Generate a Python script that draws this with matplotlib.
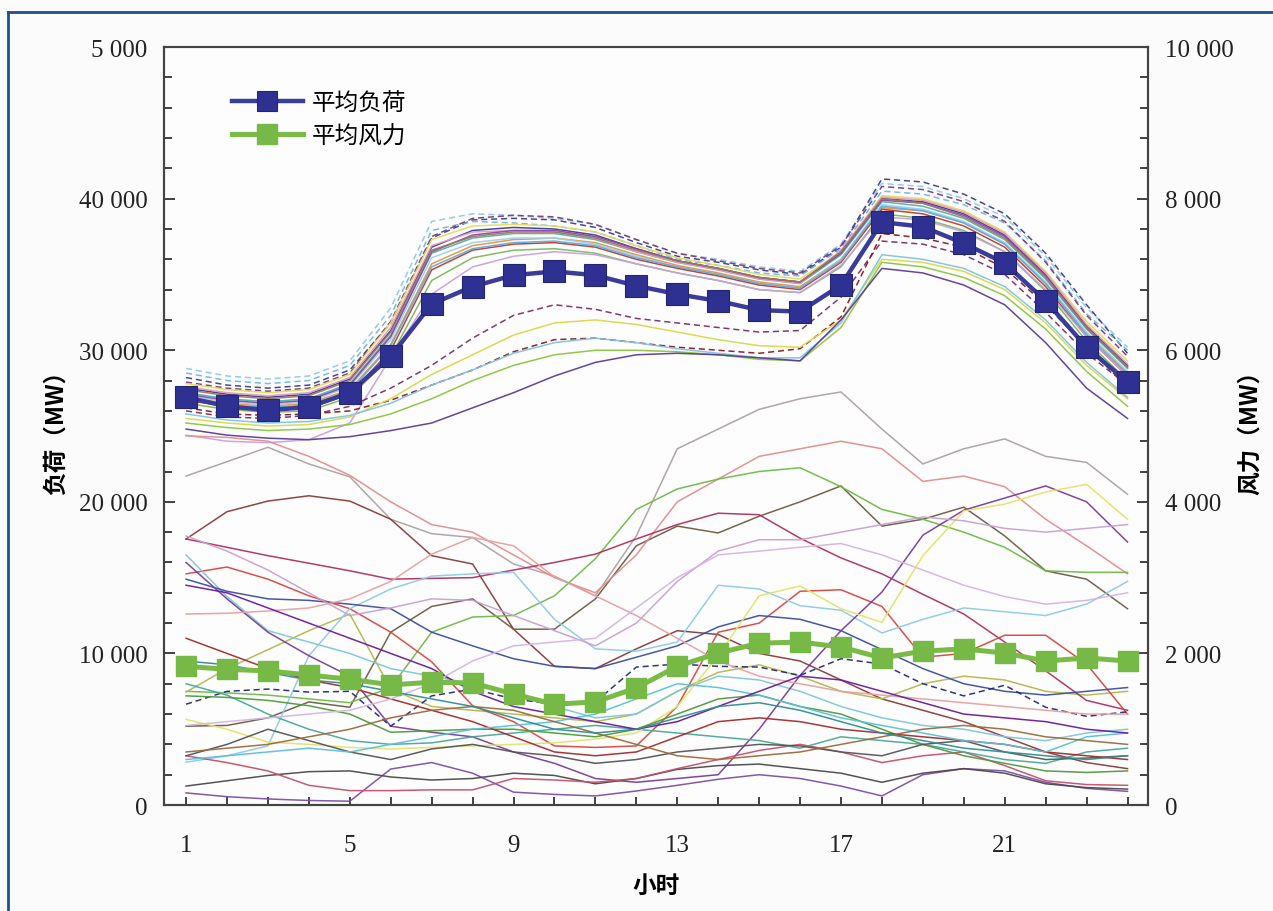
import matplotlib
matplotlib.use("Agg")
import matplotlib.pyplot as plt
from matplotlib.lines import Line2D
from matplotlib.ticker import MultipleLocator, FixedLocator

plt.rcParams['font.family'] = ['Liberation Serif', 'Noto Sans CJK SC', 'DejaVu Sans']

hours = list(range(1, 25))

# ---------------- average curves ----------------
avg_load = [26900, 26300, 26050, 26250, 27200, 29600, 33050, 34200, 34950, 35200, 34950, 34250,
            33700, 33250, 32650, 32550, 34300, 38450, 38150, 37050, 35750, 33250, 30200, 27900]
avg_wind = [1830, 1790, 1770, 1715, 1660, 1585, 1620, 1610, 1465, 1330, 1360, 1545,
            1830, 2005, 2135, 2150, 2085, 1940, 2030, 2060, 2005, 1900, 1940, 1900]

# ---------------- daily load curves (MW) ----------------
load_curves = [
    ([28800, 28300, 28100, 28300, 29300, 32800, 38500, 39000, 38900, 38700, 38300, 37300, 36400, 36000, 35500, 35200, 37000, 41000, 40800, 40000, 38800, 36200, 32800, 30200], '#8fc9ea', '--'),
    ([28200, 27700, 27500, 27700, 28700, 31800, 37400, 38600, 38700, 38600, 38100, 37100, 36200, 35800, 35300, 35000, 36800, 41300, 41100, 40300, 39000, 36400, 33000, 29800], '#3a3f8f', '--'),
    ([28500, 28000, 27800, 28000, 29000, 32300, 37900, 38500, 38400, 38200, 37800, 36900, 36000, 35600, 35100, 34900, 36700, 40500, 40300, 39600, 38400, 35900, 32400, 30000], '#6cb8e0', '--'),
    ([27900, 27500, 27300, 27500, 28500, 31900, 37500, 38700, 38900, 38800, 38300, 37300, 36400, 35900, 35400, 35100, 36900, 40800, 40600, 39800, 38500, 35800, 32300, 29600], '#7a3b7e', '--'),
    ([27800, 27400, 27200, 27400, 28400, 31800, 37300, 38200, 38300, 38200, 37800, 36900, 36100, 35600, 35000, 34700, 36500, 40200, 40000, 39200, 37800, 35200, 31900, 29300], '#e4dc5a', '-'),
    ([27500, 27100, 26900, 27100, 28100, 31300, 36800, 37900, 38100, 38000, 37600, 36700, 35900, 35400, 34800, 34500, 36400, 40000, 39800, 39000, 37600, 35000, 31600, 29000], '#3c3c9c', '-'),
    ([27200, 26800, 26600, 26800, 27800, 31000, 36400, 37400, 37700, 37700, 37300, 36500, 35800, 35300, 34700, 34400, 36300, 39800, 39500, 38700, 37300, 34700, 31400, 28800], '#4fb0a8', '-'),
    ([26900, 26500, 26300, 26500, 27400, 30400, 35700, 36900, 37300, 37400, 37100, 36300, 35600, 35100, 34500, 34200, 36000, 39400, 39200, 38400, 37000, 34400, 31100, 28500], '#e8953a', '-'),
    ([27600, 27200, 27000, 27200, 28200, 31500, 36900, 37800, 37900, 37800, 37400, 36500, 35800, 35300, 34700, 34400, 36600, 40100, 39900, 39100, 37700, 35100, 31700, 29100], '#e39ab8', '-'),
    ([27000, 26600, 26400, 26600, 27600, 30700, 36100, 37100, 37400, 37400, 37000, 36200, 35500, 35000, 34400, 34100, 36000, 39600, 39300, 38500, 37100, 34500, 31200, 28600], '#9ad0ec', '-'),
    ([26700, 26300, 26100, 26200, 27100, 30000, 35300, 36600, 37000, 37100, 36800, 36000, 35400, 34900, 34300, 34000, 35800, 39300, 39000, 38200, 36800, 34200, 30900, 28300], '#c0392b', '-'),
    ([26500, 26100, 25900, 26000, 26900, 29600, 34600, 36100, 36600, 36700, 36400, 35700, 35100, 34600, 34000, 33800, 35500, 39000, 38700, 37900, 36500, 33900, 30600, 28000], '#7cba5a', '-'),
    ([27100, 26700, 26500, 26700, 27700, 30900, 36500, 37600, 37900, 37900, 37500, 36700, 35900, 35400, 34800, 34500, 36400, 39900, 39700, 38900, 37500, 34900, 31500, 28900], '#8e44ad', '-'),
    ([26800, 26400, 26200, 26400, 27300, 30300, 35500, 36700, 37100, 37200, 36900, 36100, 35500, 35000, 34400, 34100, 35900, 39500, 39200, 38400, 37000, 34400, 31000, 28400], '#5dade2', '-'),
    ([27400, 27000, 26800, 27000, 28000, 31200, 36600, 37500, 37800, 37800, 37400, 36600, 35900, 35400, 34800, 34500, 36500, 40000, 39700, 38800, 37400, 34800, 31500, 28900], '#a0785a', '-'),
    ([24400, 24000, 23900, 24100, 25200, 29500, 33700, 35500, 36200, 36500, 36300, 35700, 35100, 34600, 34000, 33800, 35600, 38800, 38600, 37800, 36500, 34000, 30900, 28300], '#c9a0dc', '-'),
    ([26000, 25600, 25500, 25700, 26300, 27500, 29000, 30800, 32300, 33000, 32700, 32100, 31800, 31500, 31200, 31300, 33500, 37200, 37000, 36300, 35000, 32500, 29800, 27700], '#7b2d6b', '--'),
    ([26200, 25800, 25700, 25800, 26000, 26700, 27700, 28700, 29900, 30700, 30800, 30500, 30200, 30000, 29800, 30100, 32200, 37700, 37400, 36800, 35400, 33000, 30200, 27600], '#8b1a1a', '--'),
    ([25500, 25200, 25000, 25100, 25600, 26800, 28400, 29700, 31000, 31800, 32000, 31700, 31200, 30700, 30300, 30200, 32000, 36000, 35800, 35200, 34000, 31800, 29000, 26800], '#d8d84a', '-'),
    ([25800, 25400, 25200, 25300, 25700, 26500, 27700, 28700, 29800, 30500, 30800, 30500, 30100, 29800, 29500, 29500, 31800, 36300, 36000, 35400, 34200, 32000, 29200, 26900], '#7fc4e0', '-'),
    ([25200, 24900, 24700, 24800, 25100, 25800, 26800, 28000, 29000, 29700, 30000, 30000, 29900, 29700, 29400, 29300, 31500, 35800, 35500, 34800, 33600, 31400, 28600, 26300], '#8cc63f', '-'),
    ([24800, 24400, 24200, 24100, 24300, 24700, 25200, 26200, 27200, 28300, 29200, 29700, 29800, 29700, 29500, 29300, 32000, 35400, 35100, 34300, 33000, 30500, 27500, 25500], '#5b3a9a', '-'),
]

# ---------------- daily wind curves (MW) ----------------
wind_curves = [
    ([4340, 4530, 4720, 4500, 4330, 3770, 3580, 3530, 3180, 3020, 2760, 3550, 4700, 4960, 5220, 5360, 5450, 4960, 4500, 4700, 4830, 4600, 4520, 4100], '#aba2a2', '-'),
    ([3510, 3870, 4010, 4080, 4010, 3770, 3290, 3180, 2320, 1830, 1800, 2060, 2300, 2250, 2000, 1900, 1650, 1400, 1250, 1100, 900, 700, 560, 480], '#8b3a3a', '-'),
    ([1040, 1050, 1150, 1360, 1290, 2280, 2620, 2720, 2320, 2320, 2720, 3420, 3680, 3590, 3810, 4000, 4210, 3680, 3770, 3930, 3550, 3090, 2980, 2590], '#6b5e45', '-'),
    ([4870, 4850, 4800, 4600, 4350, 4000, 3700, 3600, 3300, 3000, 2800, 3300, 4000, 4300, 4600, 4700, 4800, 4700, 4270, 4340, 4200, 3770, 3420, 3050], '#e58c8c', '-'),
    ([1500, 1480, 1450, 1400, 1350, 1550, 2280, 2480, 2500, 2760, 3250, 3900, 4170, 4300, 4400, 4450, 4200, 3900, 3770, 3600, 3400, 3090, 3070, 3070], '#6dbb45', '-'),
    ([1490, 1800, 2050, 2300, 2520, 1530, 1300, 1250, 1200, 1150, 1100, 1200, 1500, 1750, 1850, 1700, 1500, 1400, 1600, 1700, 1650, 1500, 1450, 1500], '#b5b84a', '-'),
    ([3510, 3400, 3290, 3190, 3090, 2980, 2990, 3000, 3100, 3200, 3310, 3510, 3700, 3850, 3830, 3520, 3260, 3050, 2780, 2520, 2150, 1770, 1380, 1250], '#b03060', '-'),
    ([3050, 3140, 2980, 2760, 2590, 2280, 1890, 1310, 1100, 780, 760, 780, 1300, 2280, 2400, 2820, 2840, 2620, 1950, 2000, 2240, 2240, 1860, 1200], '#d9473f', '-'),
    ([565, 650, 780, 1970, 2590, 2850, 3020, 3050, 3070, 2450, 2060, 2030, 2150, 2900, 2850, 2630, 2570, 2270, 2450, 2600, 2550, 2500, 2650, 2950], '#8fcbe6', '-'),
    ([3300, 2750, 2300, 2150, 2000, 1800, 1700, 1600, 1450, 1300, 1150, 1200, 1500, 1700, 1650, 1500, 1300, 1150, 1050, 1000, 900, 850, 950, 1000], '#7ec8d8', '-'),
    ([2980, 2820, 2720, 2700, 2650, 2590, 2280, 2100, 1930, 1830, 1800, 1950, 2100, 2350, 2500, 2450, 2300, 2050, 1800, 1600, 1500, 1450, 1500, 1550], '#3b4fa0', '-'),
    ([3200, 2720, 2280, 1970, 1700, 1040, 960, 900, 700, 550, 350, 300, 350, 400, 1000, 1710, 2300, 2810, 3560, 3890, 4050, 4210, 4000, 3470], '#7d3c98', '-'),
    ([1330, 1500, 1530, 1490, 1500, 1040, 1440, 1530, 1400, 1330, 1360, 1820, 1860, 1830, 1820, 1710, 1930, 1860, 1600, 1440, 1580, 1290, 1170, 1230], '#262a78', '--'),
    ([160, 110, 80, 60, 50, 475, 560, 420, 170, 140, 120, 185, 260, 340, 400, 350, 250, 120, 400, 480, 450, 300, 220, 180], '#7b4fa8', '-'),
    ([250, 320, 390, 440, 450, 370, 330, 350, 420, 390, 280, 350, 470, 520, 540, 480, 420, 300, 420, 480, 420, 280, 230, 210], '#4a4a4a', '-'),
    ([650, 560, 450, 260, 190, 190, 200, 200, 350, 330, 300, 350, 480, 600, 720, 800, 700, 560, 650, 700, 520, 320, 270, 260], '#c8506a', '-'),
    ([1600, 1450, 1200, 1000, 850, 800, 820, 900, 950, 1000, 1050, 1000, 950, 900, 850, 750, 900, 850, 800, 700, 600, 550, 700, 750], '#48a999', '-'),
    ([1130, 1000, 830, 800, 760, 740, 760, 780, 800, 820, 870, 950, 1300, 1970, 2760, 2890, 2590, 2410, 3290, 3880, 3970, 4130, 4230, 3770], '#e3e36a', '-'),
    ([1440, 1420, 1380, 1310, 1200, 960, 980, 1000, 1000, 950, 900, 1000, 1200, 1400, 1450, 1300, 1200, 1000, 800, 650, 550, 450, 430, 450], '#4f9a3a', '-'),
    ([650, 800, 1000, 850, 700, 600, 740, 800, 700, 650, 550, 600, 700, 750, 800, 780, 700, 650, 800, 850, 700, 600, 620, 650], '#555555', '-'),
    ([3550, 3350, 3100, 2800, 2500, 2600, 2720, 2700, 2500, 2300, 2100, 2400, 2950, 3350, 3500, 3500, 3600, 3700, 3800, 3750, 3650, 3600, 3650, 3700], '#c9a2d0', '-'),
    ([2520, 2530, 2560, 2600, 2720, 2950, 3310, 3530, 3420, 3010, 2760, 2500, 2200, 1900, 1700, 1600, 1500, 1450, 1400, 1350, 1300, 1250, 1200, 1200], '#e8a0a0', '-'),
    ([2200, 2000, 1800, 1650, 1550, 1400, 1250, 1100, 900, 700, 650, 700, 900, 1100, 1150, 1100, 1000, 950, 900, 850, 800, 700, 650, 600], '#a52a2a', '-'),
    ([600, 650, 700, 750, 700, 800, 900, 1000, 1050, 1100, 1200, 1400, 1600, 1550, 1450, 1300, 1150, 1050, 950, 850, 800, 700, 900, 950], '#5bc0de', '-'),
    ([2900, 2800, 2600, 2400, 2200, 2000, 1800, 1500, 1300, 1200, 1100, 1000, 1100, 1300, 1500, 1700, 1650, 1500, 1350, 1200, 1150, 1100, 1000, 950], '#6a1b9a', '-'),
    ([1050, 1100, 1150, 1200, 1250, 1400, 1600, 1900, 2100, 2150, 2200, 2600, 3000, 3300, 3350, 3400, 3450, 3300, 3100, 2900, 2750, 2650, 2700, 2800], '#d4b6e2', '-'),
    ([700, 750, 800, 900, 1000, 1150, 1250, 1300, 1250, 1100, 950, 800, 650, 600, 650, 700, 800, 900, 1000, 1050, 1000, 900, 850, 800], '#9c6a3a', '-'),
    ([1900, 1850, 1750, 1650, 1600, 1500, 1400, 1300, 1150, 1000, 950, 1000, 1150, 1300, 1350, 1250, 1100, 950, 850, 750, 700, 650, 600, 650], '#2f8f8f', '-'),
]

load_ticks = [0, 10000, 20000, 30000, 40000, 50000]
load_tick_labels = ['0', '10 000', '20 000', '30 000', '40 000', '5 000']
wind_ticks = [0, 2000, 4000, 6000, 8000, 10000]
wind_tick_labels = ['0', '2 000', '4 000', '6 000', '8 000', '10 000']
hour_ticks = [1, 5, 9, 13, 17, 21]

fig = plt.figure(figsize=(12.73, 9.12), dpi=100, facecolor='#fbfbfc')
ax = fig.add_axes([0.1288, 0.1162, 0.773, 0.8311])
ax.set_facecolor('#fdfdfe')
ax2 = ax.twinx()

for vals, col, ls in load_curves:
    ax.plot(hours, vals, color=col, lw=1.1, ls=ls if ls == '-' else (0, (4, 2.5)), alpha=0.95,
            zorder=2)
for vals, col, ls in wind_curves:
    ax2.plot(hours, vals, color=col, lw=1.1, ls=ls if ls == '-' else (0, (4, 2.5)), alpha=0.95,
             zorder=2)

line_load, = ax.plot(hours, avg_load, color='#3b3b9b', lw=3.2, marker='s', markersize=16,
                     markerfacecolor='#2e3192', markeredgecolor='#23256e', markeredgewidth=0.8,
                     zorder=5)
line_wind, = ax2.plot(hours, avg_wind, color='#78bb45', lw=3.6, marker='s', markersize=14.5,
                      markerfacecolor='#76b947', markeredgecolor='#76b947', zorder=5)

ax.set_xlim(0.46, 24.5)
ax.set_ylim(0, 50000)
ax2.set_ylim(0, 10000)

ax.set_yticks(load_ticks)
ax.set_yticklabels(load_tick_labels)
ax.yaxis.set_minor_locator(MultipleLocator(2000))
ax2.set_yticks(wind_ticks)
ax2.set_yticklabels(wind_tick_labels)
ax2.yaxis.set_minor_locator(MultipleLocator(400))
ax.set_xticks(hour_ticks)
ax.set_xticklabels([str(h) for h in hour_ticks])
ax.xaxis.set_minor_locator(FixedLocator(hours))

for a in (ax, ax2):
    a.tick_params(which='both', direction='in', labelsize=18, colors='#222222', width=1.2)
    a.tick_params(which='major', length=8)
    a.tick_params(which='minor', length=6)
    for sp in a.spines.values():
        sp.set_color('#444444')
        sp.set_linewidth(1.5)
ax.tick_params(axis='x', which='both', length=6, pad=21)
ax.tick_params(axis='y', pad=12, right=False)
ax2.tick_params(axis='y', pad=12)

cjk = ['Noto Sans CJK SC', 'DejaVu Sans']
ax.set_ylabel('负荷（MW）', family=cjk, fontsize=17, fontweight='bold', labelpad=8)
ax2.set_ylabel('风力（MW）', family=cjk, fontsize=17, fontweight='bold', labelpad=3)
ax.set_xlabel('小时', family=cjk, fontsize=17, fontweight='bold', labelpad=12)

leg = ax2.legend([line_load, line_wind], ['平均负荷', '平均风力'], loc='upper left',
                 bbox_to_anchor=(0.069, 0.942), frameon=False, borderpad=0, borderaxespad=0,
                 handlelength=3.0, handletextpad=0.4, labelspacing=0.45,
                 prop={'family': cjk, 'size': 17})
for h in leg.legend_handles:
    h.set_markersize(14)

# figure frame along the top and left edges
fig.add_artist(Line2D([8 / 1273, 8 / 1273], [0, 1 - 13 / 912], transform=fig.transFigure,
                      color='#1d4f8e', lw=2))
fig.add_artist(Line2D([8 / 1273, 1], [1 - 13 / 912, 1 - 13 / 912], transform=fig.transFigure,
                      color='#1d4f8e', lw=2))

fig.savefig('out.png', dpi=100, facecolor=fig.get_facecolor())
